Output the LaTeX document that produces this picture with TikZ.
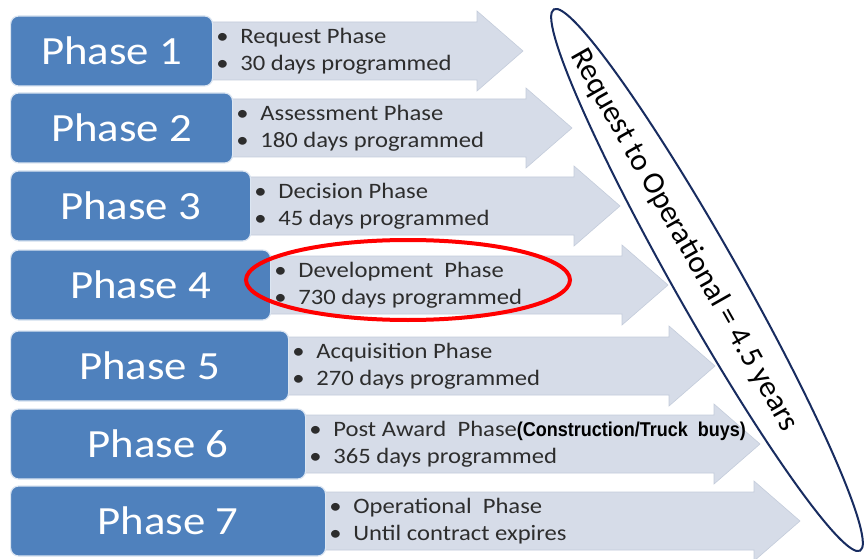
\documentclass[tikz,border=0pt]{standalone}
\usepackage{fontspec}
\setmainfont{Carlito}
\newfontfamily\phasefont[FakeStretch=1.12]{Carlito}
\newfontfamily\notefont[FakeStretch=1.12]{Carlito}
\newfontfamily\extrafont[FakeStretch=0.9]{Liberation Sans}
\usetikzlibrary{shapes.geometric}

\definecolor{phaseblue}{RGB}{79,129,189}
\definecolor{arrowgray}{RGB}{214,220,232}
\definecolor{rimgray}{RGB}{196,204,219}
\definecolor{navy}{RGB}{24,44,96}
\definecolor{notegray}{RGB}{45,45,45}

\tikzset{
  phasebox/.style={rounded corners=8pt, fill=phaseblue, draw=white!80!phaseblue,
    line width=1.2pt, text=white, inner sep=0pt, minimum height=70pt, anchor=west,
    font=\phasefont\fontsize{40}{40}\selectfont},
  notes/.style={align=left, anchor=west, text=notegray, inner sep=0pt,
    font=\notefont\fontsize{22}{27}\selectfont},
  phasearrow/.style={fill=arrowgray, draw=rimgray, line width=0.6pt},
}
\newcommand{\bul}{\makebox[24pt][l]{\textbullet}}

\begin{document}
\begin{tikzpicture}[x=1pt, y=-1pt]
\useasboundingbox (0,0) rectangle (865,559);
\fill[white] (0,0) rectangle (865,559);

% arrows behind the phase boxes
\foreach \y/\r/\t in {51/212/523, 128/232/572, 206/250/620, 285/270/668,
                      366/288/715, 444/305/760, 521/325/800}
  \draw[phasearrow] (\r-20,\y-29) -- (\t-46,\y-29) -- (\t-46,\y-40) -- (\t,\y)
    -- (\t-46,\y+40) -- (\t-46,\y+29) -- (\r-20,\y+29) -- cycle;

% phase boxes
\foreach \i/\y/\r in {1/51/212, 2/128/232, 3/206/250, 4/285/270,
                      5/366/288, 6/444/305, 7/521/325}
  \node[phasebox, minimum width=\r pt-10pt] (p\i) at (10,\y) {Phase \i};

% notes
\node[notes] (t1) at ([xshift=3pt]p1.east) {\bul Request Phase\\ \bul 30 days programmed};
\node[notes] (t2) at ([xshift=3pt]p2.east) {\bul Assessment Phase\\ \bul 180 days programmed};
\node[notes] (t3) at ([xshift=3pt]p3.east) {\bul Decision Phase\\ \bul 45 days programmed};
\node[notes] (t4) at ([xshift=3pt]p4.east) {\bul Development~ Phase\\ \bul 730 days programmed};
\node[notes] (t5) at ([xshift=3pt]p5.east) {\bul Acquisition Phase\\ \bul 270 days programmed};
\node[notes] (t6) at ([xshift=3pt]p6.east) {\bul Post Award~ Phase{\extrafont\bfseries\fontsize{20}{20}\selectfont\color{black}(Construction/Truck~ buys)}\\ \bul 365 days programmed};
\node[notes] (t7) at ([xshift=3pt]p7.east) {\bul Operational~ Phase\\ \bul Until contract expires};

% highlight and total
\node[ellipse, draw=red, line width=4pt, minimum width=324pt, minimum height=80pt] (hl) at (408,280) {};
\node[ellipse, draw=navy, line width=2pt, minimum width=622pt, minimum height=66pt, rotate=-60.5] (tot) at (707,280) {};
\node[rotate=-60.5, text=black, font=\fontsize{31}{31}\selectfont] (total) at (684,240) {Request to Operational = 4.5 years};
\end{tikzpicture}
\end{document}
